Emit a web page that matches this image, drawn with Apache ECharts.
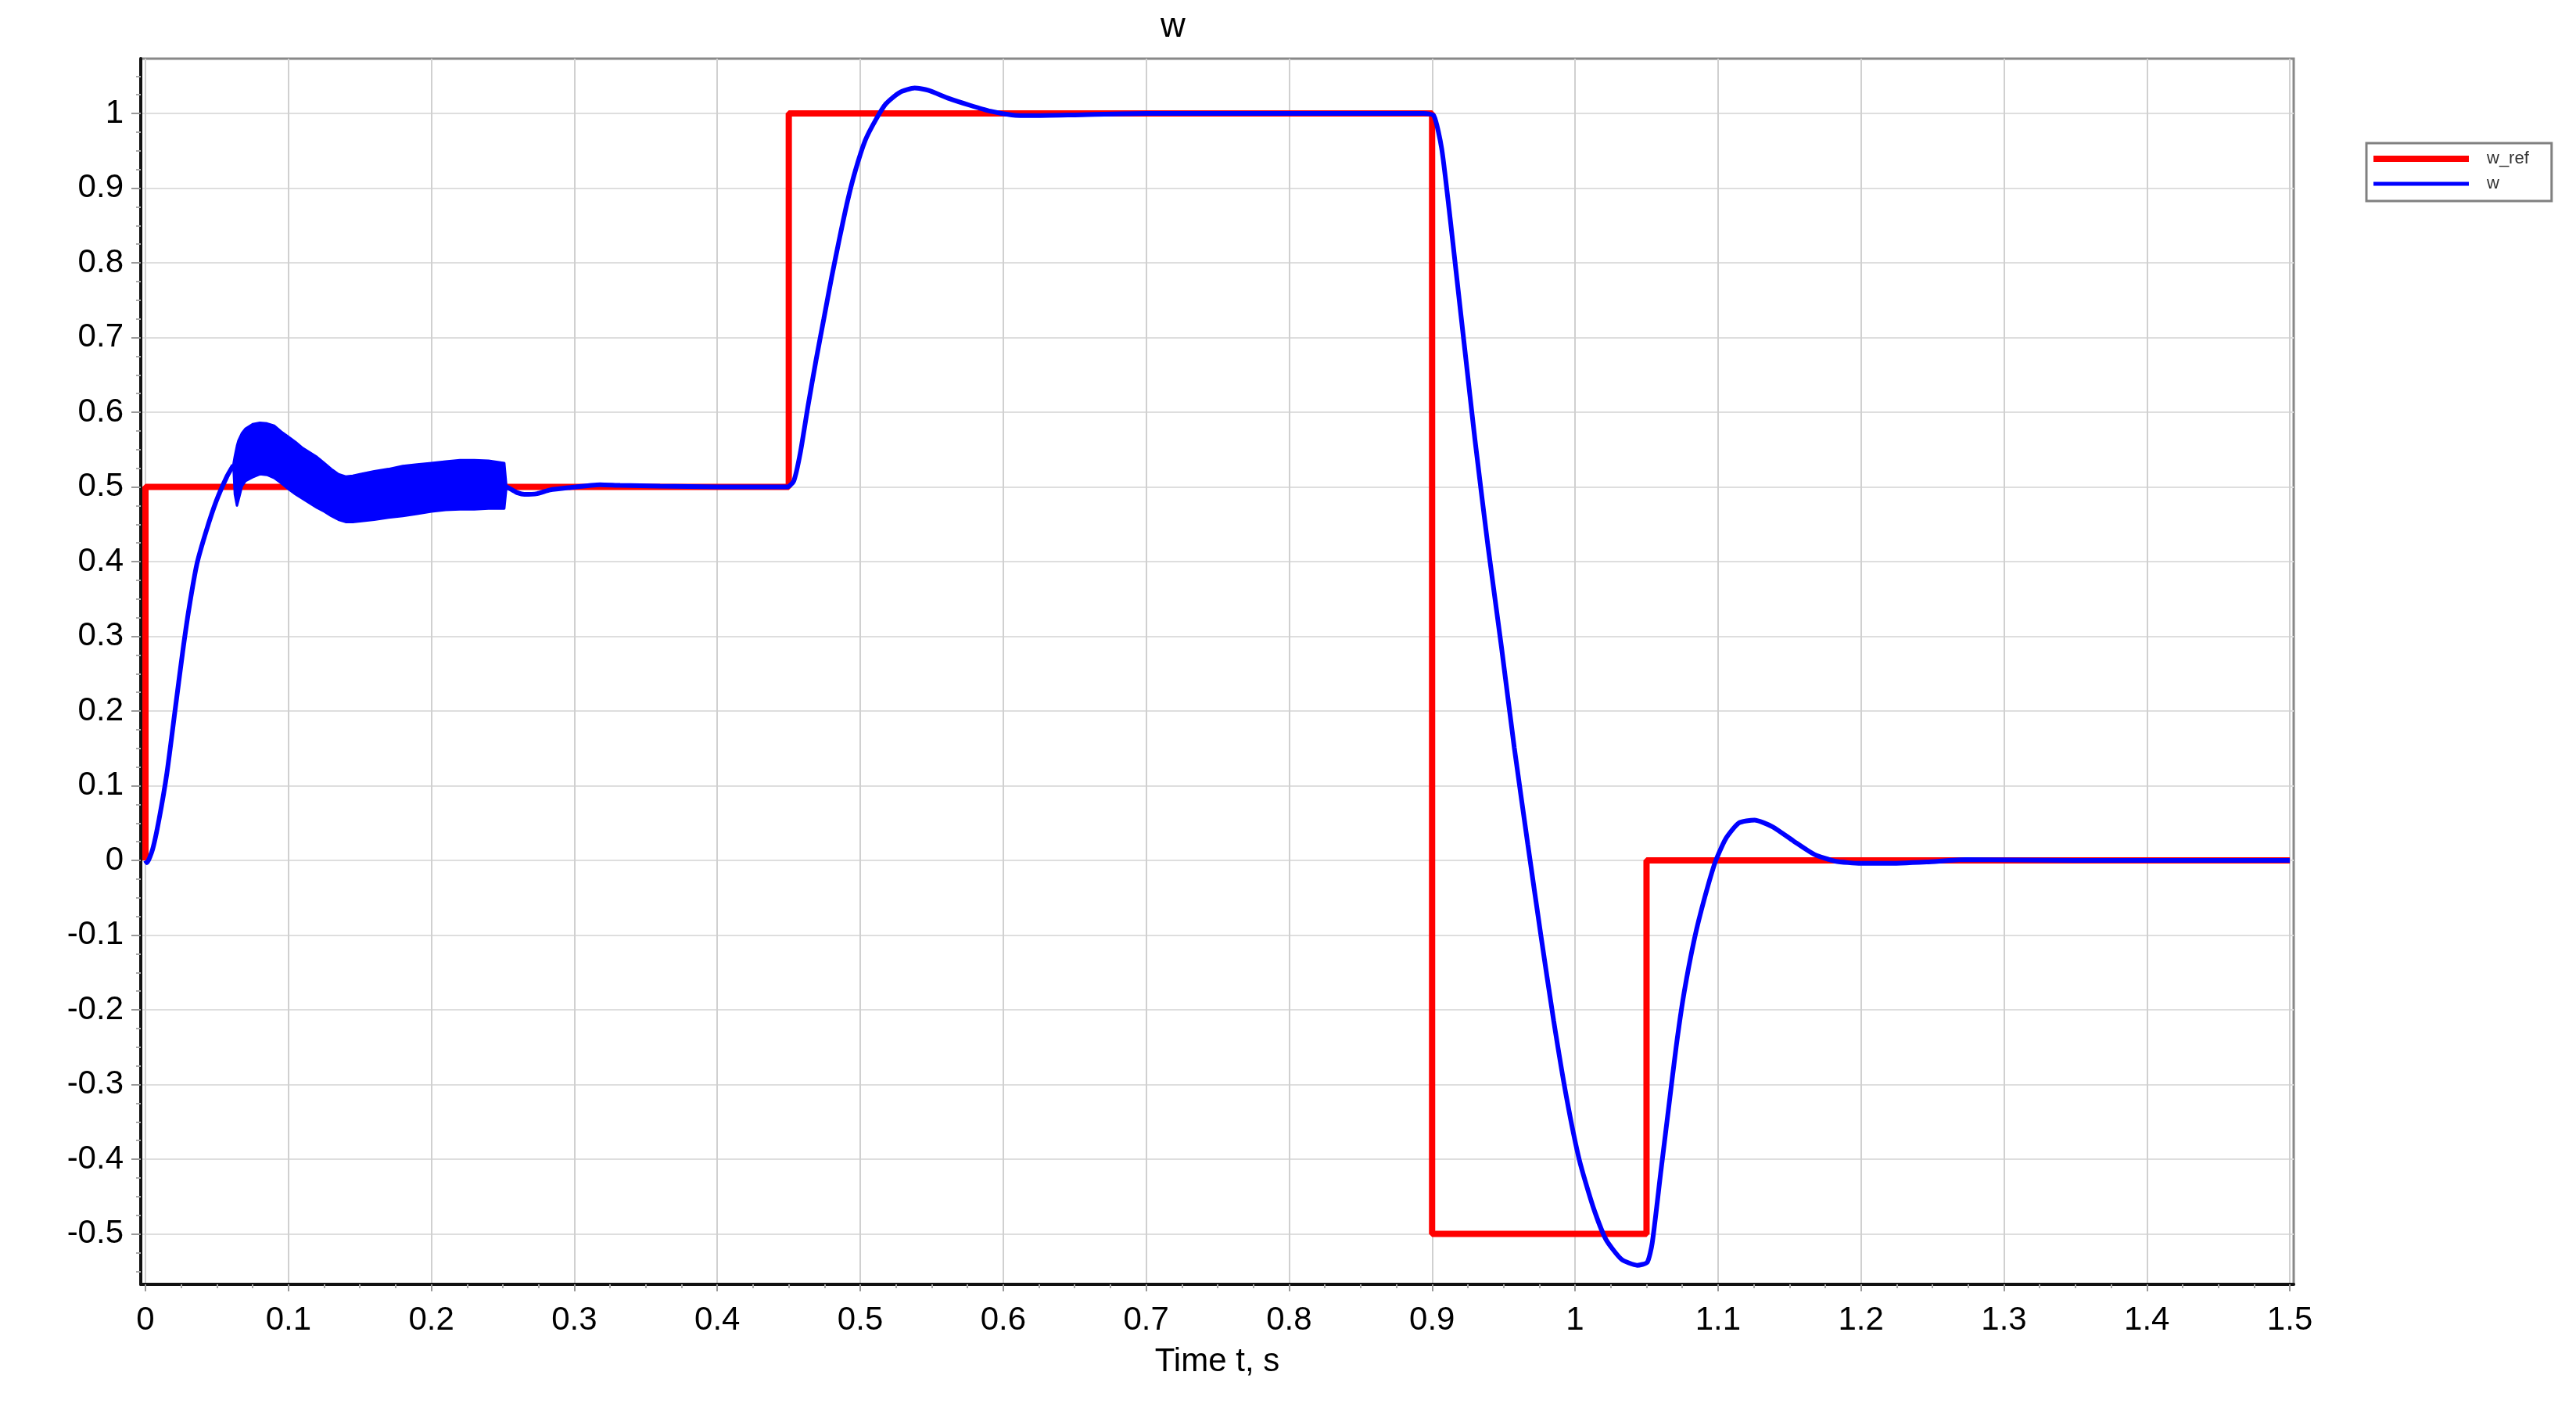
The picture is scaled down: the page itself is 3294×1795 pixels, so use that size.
<!DOCTYPE html>
<html>
<head>
<meta charset="utf-8">
<title>w</title>
<script src="https://cdn.jsdelivr.net/npm/echarts@6/dist/echarts.min.js"></script>
<style>
  html, body { margin: 0; padding: 0; background: #fff; }
  #chart { width: 3294px; height: 1795px; }
</style>
</head>
<body>
<div id="chart"></div>
<script>
// step reference w_ref
var refT = [0, 0, 0.45, 0.45, 0.9, 0.9, 1.05, 1.05, 1.5];
var refV = [0, 0.5, 0.5, 1, 1, -0.5, -0.5, 0, 0];

// measured speed w (null = gap where the oscillating band is drawn)
var wT = [0, 0.001, 0.005, 0.0095, 0.015, 0.0205, 0.026, 0.0305, 0.036, 0.0425, 0.0495, 0.057, 0.0615,
  0.15,
  0.2525, 0.2556, 0.2605, 0.265, 0.274, 0.283, 0.296, 0.318, 0.332, 0.36, 0.40, 0.449,
  0.4535, 0.458, 0.4635, 0.469, 0.4745, 0.48, 0.4855, 0.491, 0.4965, 0.5035, 0.511, 0.518,
  0.5275, 0.538, 0.5475, 0.562, 0.5765, 0.591, 0.606, 0.62, 0.65, 0.70, 0.894,
  0.9012, 0.9067, 0.912, 0.9175, 0.923, 0.930, 0.939, 0.9485, 0.9575, 0.967, 0.976, 0.985,
  0.994, 1.003, 1.0125, 1.0215, 1.0325, 1.0435, 1.0505, 1.054, 1.0598, 1.0653, 1.0707,
  1.0762, 1.0835, 1.0908, 1.0981, 1.1054, 1.1145, 1.1255, 1.1382, 1.1528, 1.1674, 1.182,
  1.2, 1.218, 1.246, 1.273, 1.35, 1.5];
var wV = [0, -0.003, 0.015, 0.055, 0.117, 0.198, 0.279, 0.338, 0.397, 0.441, 0.481, 0.514, 0.529,
  null,
  0.5, 0.497, 0.492, 0.49, 0.491, 0.496, 0.499, 0.503, 0.502, 0.501, 0.5, 0.5,
  0.508, 0.545, 0.609, 0.669, 0.725, 0.781, 0.833, 0.882, 0.923, 0.964, 0.992, 1.013,
  1.028, 1.034, 1.031, 1.02, 1.011, 1.003, 0.998, 0.997, 0.998, 1.0, 1.0,
  0.997, 0.953, 0.87, 0.776, 0.682, 0.563, 0.422, 0.286, 0.151, 0.021, -0.099, -0.214,
  -0.317, -0.401, -0.463, -0.507, -0.534, -0.542, -0.538, -0.512, -0.42, -0.334, -0.25,
  -0.178, -0.105, -0.049, -0.002, 0.029, 0.05, 0.054, 0.045, 0.026, 0.008, -0.001,
  -0.004, -0.004, -0.002, 0.001, 0, 0];

// envelope of the fast oscillation of w between 0.06 s and 0.25 s
var bandT = [0.0615, 0.0625, 0.064, 0.065, 0.0675, 0.07, 0.075, 0.08, 0.085, 0.09, 0.095, 0.10,
  0.105, 0.11, 0.115, 0.12, 0.125, 0.13, 0.135, 0.14, 0.145, 0.15, 0.16, 0.17, 0.18, 0.19,
  0.20, 0.21, 0.22, 0.23, 0.24, 0.251, 0.2525];
var bandHi = [0.53, 0.541, 0.555, 0.562, 0.572, 0.578, 0.584, 0.586, 0.585, 0.582, 0.574, 0.567,
  0.56, 0.552, 0.546, 0.54, 0.532, 0.524, 0.517, 0.514, 0.515, 0.517, 0.521, 0.524, 0.528, 0.53,
  0.532, 0.534, 0.536, 0.536, 0.535, 0.532, 0.5];
var bandLo = [0.529, 0.49, 0.475, 0.482, 0.501, 0.508, 0.513, 0.517, 0.516, 0.512, 0.505, 0.497,
  0.49, 0.484, 0.478, 0.472, 0.467, 0.461, 0.456, 0.453, 0.453, 0.454, 0.456, 0.459, 0.461, 0.464,
  0.467, 0.469, 0.47, 0.47, 0.471, 0.471, 0.5];

var xTicks = [0, 0.1, 0.2, 0.3, 0.4, 0.5, 0.6, 0.7, 0.8, 0.9, 1, 1.1, 1.2, 1.3, 1.4, 1.5];
var yTicks = [-0.5, -0.4, -0.3, -0.2, -0.1, 0, 0.1, 0.2, 0.3, 0.4, 0.5, 0.6, 0.7, 0.8, 0.9, 1];

var X_MIN = -0.0033, X_MAX = 1.5027;
var Y_MIN = -0.5675, Y_MAX = 1.0733;

// minor ticks: 4 subdivisions per major step
function minors(from, to, step) {
  var out = [];
  for (var i = Math.round(from / step); i <= Math.round(to / step); i++) {
    if (i % 4 !== 0) out.push(+(i * step).toFixed(4));
  }
  return out;
}
var xMinor = minors(0, 1.5, 0.025);
var yMinor = minors(-0.55, 1.05, 0.025);

var FONT = '"Liberation Sans", Arial, sans-serif';

function pairs(ts, vs) {
  return ts.map(function (t, i) { return [t, vs[i]]; });
}

// the band is one filled polygon: upper envelope forward, lower envelope back
function renderBand(params, api) {
  if (params.dataIndex !== 0) return;
  var pts = [];
  for (var i = 0; i < bandT.length; i++) pts.push(api.coord([bandT[i], bandHi[i]]));
  for (var j = bandT.length - 1; j >= 0; j--) pts.push(api.coord([bandT[j], bandLo[j]]));
  return {
    type: 'polygon',
    shape: { points: pts },
    style: { fill: '#0000ff', stroke: '#0000ff', lineWidth: 3, lineJoin: 'round' }
  };
}

var chart = echarts.init(document.getElementById('chart'));
chart.setOption({
  animation: false,
  backgroundColor: '#ffffff',
  title: {
    text: 'w',
    left: 1484,
    top: 13,
    padding: 0,
    textStyle: { fontFamily: FONT, fontSize: 44, fontWeight: 'normal', color: '#000' }
  },
  legend: {
    left: 3026,
    top: 183,
    orient: 'vertical',
    padding: [9, 29, 11, 9],
    itemWidth: 122,
    itemHeight: 8,
    itemGap: 10,
    borderColor: '#808080',
    borderWidth: 3,
    backgroundColor: '#fff',
    textStyle: { fontFamily: FONT, fontSize: 22, lineHeight: 22, color: '#333', padding: [0, 0, 0, 18] },
    data: [
      { name: 'w_ref', icon: 'path://M0,0H122V8H0Z', itemStyle: { color: '#ff0000' } },
      { name: 'w', icon: 'path://M0,0M0,8M0,1.5H122V6.5H0Z', itemStyle: { color: '#0000ff' } }
    ]
  },
  grid: {
    left: 180,
    right: 361,
    top: 75,
    bottom: 153,
    show: true,
    borderColor: '#888',
    borderWidth: 3,
    backgroundColor: '#fff'
  },
  xAxis: [
    {
      type: 'value',
      min: X_MIN,
      max: X_MAX,
      name: 'Time t, s',
      nameLocation: 'middle',
      nameGap: 78,
      nameTextStyle: { fontFamily: FONT, fontSize: 42, color: '#000' },
      axisLine: { show: true, onZero: false, lineStyle: { color: '#111', width: 4 } },
      axisTick: { show: true, customValues: xTicks, length: 9, lineStyle: { color: '#999', width: 2 } },
      axisLabel: { customValues: xTicks, margin: 25, fontFamily: FONT, fontSize: 42, color: '#000' },
      splitLine: { show: true, lineStyle: { color: '#d0d0d0', width: 2 } }
    },
    {
      type: 'value',
      position: 'bottom',
      min: X_MIN,
      max: X_MAX,
      axisLine: { show: false, onZero: false },
      axisTick: { show: true, customValues: xMinor, length: 5, lineStyle: { color: '#aaa', width: 2 } },
      axisLabel: { show: false },
      splitLine: { show: false }
    }
  ],
  yAxis: [
    {
      type: 'value',
      min: Y_MIN,
      max: Y_MAX,
      axisLine: { show: true, onZero: false, lineStyle: { color: '#111', width: 4 } },
      axisTick: { show: true, customValues: yTicks, length: 12, lineStyle: { color: '#999', width: 2 } },
      axisLabel: { customValues: yTicks, margin: 22, fontFamily: FONT, fontSize: 42, color: '#000' },
      splitLine: { show: true, lineStyle: { color: '#dedede', width: 2 } }
    },
    {
      type: 'value',
      position: 'left',
      min: Y_MIN,
      max: Y_MAX,
      axisLine: { show: false, onZero: false },
      axisTick: { show: true, customValues: yMinor, length: 6, lineStyle: { color: '#aaa', width: 2 } },
      axisLabel: { show: false },
      splitLine: { show: false }
    }
  ],
  series: [
    {
      name: 'w_ref',
      type: 'line',
      data: pairs(refT, refV),
      symbol: 'none',
      lineStyle: { color: '#ff0000', width: 8 },
      itemStyle: { color: '#ff0000' },
      z: 2
    },
    {
      name: 'w',
      type: 'line',
      data: pairs(wT, wV),
      symbol: 'none',
      smooth: 0.2,
      connectNulls: false,
      lineStyle: { color: '#0000ff', width: 6 },
      itemStyle: { color: '#0000ff' },
      z: 3
    },
    {
      name: 'w',
      type: 'custom',
      renderItem: renderBand,
      data: bandT.map(function (t, i) { return [t, bandHi[i], bandLo[i]]; }),
      encode: { x: 0, y: [1, 2] },
      itemStyle: { color: '#0000ff' },
      z: 3
    }
  ]
});
</script>
</body>
</html>
